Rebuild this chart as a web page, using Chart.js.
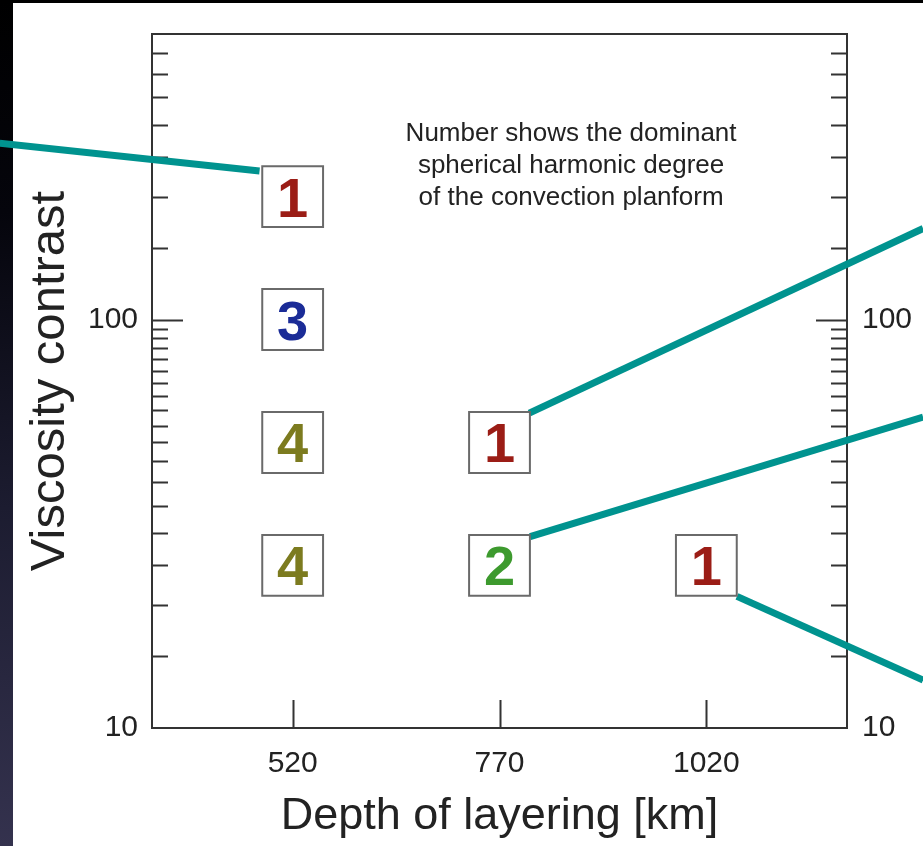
<!DOCTYPE html>
<html><head><meta charset="utf-8">
<script src="https://cdn.jsdelivr.net/npm/chart.js@4/dist/chart.umd.min.js"></script>
<style>
html,body{margin:0;padding:0;background:#fff;}
#wrap{position:relative;width:923px;height:846px;background:#fff;overflow:hidden;}
#strip{position:absolute;left:0;top:0;width:13px;height:846px;background:linear-gradient(#000 0%,#05050c 25%,#1c1c30 60%,#34324e 100%);}
#topband{position:absolute;left:0;top:0;width:923px;height:3px;background:#000;}
canvas{position:absolute;left:0;top:0;}
</style></head><body>
<div id="wrap"><div id="strip"></div><div id="topband"></div><canvas id="c" width="923" height="846"></canvas></div>
<script>
// ---- data ----
const depths = [520, 520, 520, 520, 770, 770, 1020];
const viscosity = [200, 100, 50, 25, 50, 25, 25];
const degrees = ['1', '3', '4', '4', '1', '2', '1'];
const xTickValues = [520, 770, 1020];
const yTickValues = [10, 15, 20, 25, 30, 35, 40, 45, 50, 55, 60, 65, 70, 75, 80, 85, 90, 95, 100, 150, 200, 250, 300, 350, 400, 450];
const yLabelValues = [10, 100];
const noteLines = ['Number shows the dominant', 'spherical harmonic degree', 'of the convection planform'];
const calloutX = [[480, 166], [1282, 806], [1282, 807], [1282, 1057]];
const calloutY = [[231, 270], [167, 59], [57.7, 29.4], [13.1, 21]];

// ---- styles ----
const FONT = '"Liberation Sans", Arial, Helvetica, sans-serif';
const degreeColors = {'1': '#9b1d16', '2': '#3d9a2e', '3': '#1b2c97', '4': '#7c7b1f'};
const teal = '#00938f';
const axisColor = '#333';

const datasets = [{
  type: 'scatter',
  data: depths.map((d, i) => ({x: d, y: viscosity[i]})),
  pointStyle: 'rect',
  pointRadius: 43,
  backgroundColor: '#ffffff',
  borderColor: '#6a6a6a',
  borderWidth: 2,
  order: 0
}];
calloutX.forEach((xs, k) => {
  datasets.push({
    type: 'line',
    data: xs.map((x, j) => ({x: x, y: calloutY[k][j]})),
    borderColor: teal,
    borderWidth: 7,
    borderCapStyle: 'butt',
    pointRadius: 0,
    fill: false,
    clip: false,
    order: 1
  });
});

const framePlugin = {
  id: 'frame',
  beforeDatasetsDraw(chart) {
    const {ctx, chartArea: a, scales} = chart;
    ctx.save();
    ctx.strokeStyle = axisColor;
    ctx.lineWidth = 2;
    ctx.strokeRect(a.left, a.top, a.right - a.left, a.bottom - a.top);
    ctx.beginPath();
    scales.y.ticks.forEach(t => {
      if (t.value <= 10) return;
      const py = Math.round(scales.y.getPixelForValue(t.value)) + 0.5;
      const len = yLabelValues.includes(t.value) ? 31 : 16;
      ctx.moveTo(a.left, py); ctx.lineTo(a.left + len, py);
      ctx.moveTo(a.right, py); ctx.lineTo(a.right - len, py);
    });
    scales.x.ticks.forEach(t => {
      const px = Math.round(scales.x.getPixelForValue(t.value)) + 0.5;
      ctx.moveTo(px, a.bottom); ctx.lineTo(px, a.bottom - 28);
    });
    ctx.stroke();
    ctx.restore();
  },
  afterDatasetsDraw(chart) {
    const {ctx, chartArea: a} = chart;
    const meta = chart.getDatasetMeta(0);
    ctx.save();
    ctx.textAlign = 'center';
    ctx.textBaseline = 'alphabetic';
    ctx.font = 'bold 56px ' + FONT;
    meta.data.forEach((el, i) => {
      ctx.fillStyle = degreeColors[degrees[i]];
      ctx.fillText(degrees[i], el.x, el.y + 20);
    });
    ctx.font = '26px ' + FONT;
    ctx.fillStyle = '#222';
    ctx.textBaseline = 'middle';
    const cx = a.left + 0.603 * (a.right - a.left);
    noteLines.forEach((s, i) => ctx.fillText(s, cx, a.top + 100 + 32 * i));
    ctx.restore();
  }
};

function fixV(width) {
  return s => { s.width = width; s.paddingTop = 0; s.paddingBottom = 0; };
}

new Chart(document.getElementById('c'), {
  type: 'scatter',
  data: {datasets},
  options: {
    responsive: false,
    devicePixelRatio: 1,
    animation: false,
    events: [],
    layout: {autoPadding: false, padding: {top: 34, left: 0, right: 0, bottom: 0}},
    plugins: {legend: {display: false}, tooltip: {enabled: false}},
    scales: {
      x: {
        type: 'linear', position: 'bottom', min: 350, max: 1190,
        grid: {display: false, drawTicks: false},
        border: {display: false},
        afterBuildTicks: s => { s.ticks = xTickValues.map(v => ({value: v})); },
        afterFit: s => { s.height = 118; s.paddingLeft = 0; s.paddingRight = 0; },
        ticks: {autoSkip: false, maxRotation: 0, padding: 18, color: '#222', font: {family: FONT, size: 30}, callback: v => String(v)},
        title: {display: true, text: 'Depth of layering [km]', color: '#222', font: {family: FONT, size: 45}, padding: {top: 0, bottom: 2}}
      },
      y: {
        type: 'logarithmic', position: 'left', min: 10, max: 500,
        grid: {display: false, drawTicks: false},
        border: {display: false},
        afterBuildTicks: s => { s.ticks = yTickValues.map(v => ({value: v})); },
        afterFit: fixV(152),
        ticks: {autoSkip: false, padding: 14, color: '#222', font: {family: FONT, size: 30}, callback: v => yLabelValues.includes(v) ? String(v) : ''},
        title: {display: true, text: 'Viscosity contrast', color: '#222', font: {family: FONT, size: 49}, padding: {top: 21, bottom: 0}}
      },
      y2: {
        type: 'logarithmic', position: 'right', min: 10, max: 500,
        grid: {display: false, drawTicks: false},
        border: {display: false},
        afterBuildTicks: s => { s.ticks = yTickValues.map(v => ({value: v})); },
        afterFit: fixV(76),
        ticks: {autoSkip: false, padding: 15, color: '#222', font: {family: FONT, size: 30}, callback: v => yLabelValues.includes(v) ? String(v) : ''}
      }
    }
  },
  plugins: [framePlugin]
});
</script>
</body></html>
